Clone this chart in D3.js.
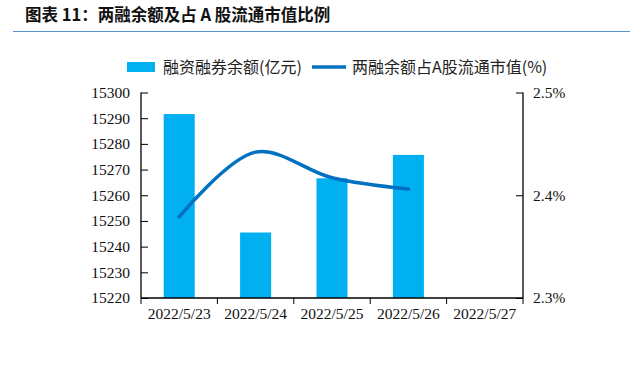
<!DOCTYPE html>
<html>
<head>
<meta charset="utf-8">
<script src="https://cdn.jsdelivr.net/npm/d3@7"></script>
<style>
  body { margin: 0; background: #fff; }
  svg { display: block; }
</style>
</head>
<body>
<div id="chart"></div>
<script>
var dates = ["2022/5/23", "2022/5/24", "2022/5/25", "2022/5/26", "2022/5/27"];
var balance = [15291.6, 15245.5, 15266.6, 15275.7];
var ratio = [2.379, 2.442, 2.417, 2.406];
var leftTicks = [15220, 15230, 15240, 15250, 15260, 15270, 15280, 15290, 15300];
var rightTicks = [2.3, 2.4, 2.5];

var width = 637, height = 372;
var pLeft = 141, pRight = 523, pTop = 92.5, pBottom = 298;

var svg = d3.select("#chart").append("svg")
  .attr("width", width)
  .attr("height", height);

// titre
svg.append("text")
  .attr("x", 25)
  .attr("y", 21)
  .style("font-family", "'Noto Sans CJK SC', sans-serif")
  .style("font-weight", "bold")
  .style("font-size", "16.5px")
  .style("fill", "#111")
  .text("图表 11：两融余额及占 A 股流通市值比例");

svg.append("line")
  .attr("x1", 13).attr("x2", 630)
  .attr("y1", 31.5).attr("y2", 31.5)
  .style("stroke", "#5b8fd0")
  .style("stroke-width", 1.2);

var x = d3.scaleBand().domain(dates).range([pLeft, pRight]);
var yL = d3.scaleLinear().domain([15220, 15300]).range([pBottom, pTop]);
var yR = d3.scaleLinear().domain([2.3, 2.5]).range([pBottom, pTop]);

var serif = "'Liberation Serif', 'Times New Roman', serif";

// barres
svg.selectAll(".bar")
  .data(balance)
  .enter()
  .append("rect")
  .attr("class", "bar")
  .attr("x", function(d, i) { return x(dates[i]) + x.bandwidth() / 2 - 15.5; })
  .attr("width", 31)
  .attr("y", function(d) { return yL(d); })
  .attr("height", function(d) { return pBottom - yL(d); })
  .style("fill", "#00b0f0");

// courbe
var line = d3.line()
  .x(function(d, i) { return x(dates[i]) + x.bandwidth() / 2; })
  .y(function(d) { return yR(d); })
  .curve(d3.curveCatmullRom.alpha(0.5));

svg.append("path")
  .datum(ratio)
  .attr("d", line)
  .style("fill", "none")
  .style("stroke", "#0070c0")
  .style("stroke-width", 3.5)
  .style("stroke-linecap", "round");

// axe gauche
var gL = svg.append("g")
  .attr("transform", "translate(" + pLeft + ",0)")
  .call(d3.axisRight(yL).tickValues(leftTicks).tickSize(7).tickFormat(d3.format("d")));
gL.selectAll("text")
  .attr("x", -11)
  .style("text-anchor", "end");

// axe droit
var gR = svg.append("g")
  .attr("transform", "translate(" + pRight + ",0)")
  .call(d3.axisLeft(yR).tickValues(rightTicks).tickSize(7).tickFormat(function(d) { return d.toFixed(1) + "%"; }));
gR.selectAll("text")
  .attr("x", 10)
  .style("text-anchor", "start");

// axe bas
var gB = svg.append("g")
  .attr("transform", "translate(0," + pBottom + ")")
  .call(d3.axisBottom(x).tickSize(0));
gB.selectAll(".tick text").attr("y", 10);

var bounds = dates.map(function(d) { return x(d); }).concat([pRight]);
gB.selectAll(".sep")
  .data(bounds)
  .enter()
  .append("line")
  .attr("x1", function(d) { return d; })
  .attr("x2", function(d) { return d; })
  .attr("y1", 0)
  .attr("y2", 6)
  .style("stroke", "#000");

[gL, gR, gB].forEach(function(g) {
  g.select(".domain").style("stroke", "#000").style("stroke-width", 1.3);
  g.selectAll(".tick line").style("stroke", "#000");
  g.selectAll("text")
    .style("font-family", serif)
    .style("font-size", "15.5px")
    .style("fill", "#111");
});
gL.select(".domain").attr("d", "M0," + pTop + "V" + pBottom);
gR.select(".domain").attr("d", "M0," + pTop + "V" + pBottom);
gB.select(".domain").attr("d", "M" + pLeft + ",0H" + pRight);

// légende
var lg = svg.append("g").attr("transform", "translate(0,67)");
lg.append("rect")
  .attr("x", 127).attr("y", -5)
  .attr("width", 28).attr("height", 10)
  .style("fill", "#00b0f0");
lg.append("text")
  .attr("x", 163).attr("y", 6)
  .style("font-family", "'Noto Sans CJK SC', sans-serif")
  .style("font-size", "16px")
  .style("fill", "#222")
  .text("融资融券余额(亿元)");
lg.append("line")
  .attr("x1", 312).attr("x2", 346)
  .attr("y1", 0).attr("y2", 0)
  .style("stroke", "#0070c0")
  .style("stroke-width", 3.5);
lg.append("text")
  .attr("x", 352).attr("y", 6)
  .style("font-family", "'Noto Sans CJK SC', sans-serif")
  .style("font-size", "16px")
  .style("fill", "#222")
  .text("两融余额占A股流通市值(%)");
</script>
</body>
</html>
